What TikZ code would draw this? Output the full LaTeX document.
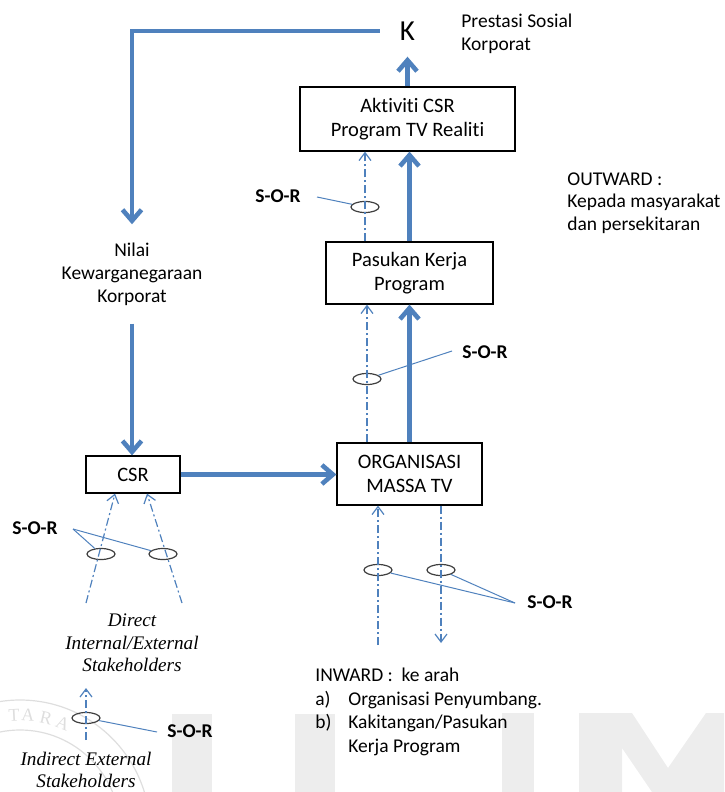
\documentclass[tikz,border=0pt]{standalone}
\usepackage{fontspec}
\setmainfont{Carlito}[Ligatures=NoCommon]
\newfontfamily\serifit{Liberation Serif}
\usetikzlibrary{arrows.meta,shapes.geometric}
\definecolor{csrblue}{HTML}{4F81BD}
\definecolor{markgrey}{HTML}{EDEDED}
\definecolor{sealgrey}{HTML}{DEDEDE}

\begin{document}
\begin{tikzpicture}[x=0.5pt,y=-0.5pt,
  box/.style={draw=black, line width=0.6pt, fill=white, inner sep=0pt, align=center,
    font=\fontsize{10.25}{12}\selectfont},
  flow/.style={draw=csrblue, line width=2.3pt, -{Straight Barb[length=5.5pt,width=9.5pt]}},
  sorflow/.style={draw=csrblue, line width=0.6pt,
    dash pattern=on 4pt off 1.5pt on 1pt off 1.5pt,
    -{Straight Barb[length=4pt,width=6pt]}},
  ring/.style={ellipse, draw=black!75, line width=0.6pt, minimum width=14pt,
    minimum height=5.5pt, inner sep=0pt},
  sortag/.style={font=\fontsize{9.75}{11}\selectfont\bfseries, inner sep=0pt},
  leader/.style={draw=csrblue, line width=0.5pt},
  note/.style={font=\fontsize{9.75}{11.5}\selectfont, inner sep=0pt, align=left},
  party/.style={font=\fontsize{9.6}{11.25}\selectfont\serifit\itshape, inner sep=0pt, align=center},
  seal/.style={draw=sealgrey, line width=0.6pt},
]
\useasboundingbox (0,0) rectangle (724,792);

% faint background seal and lettering
\begin{scope}
  \clip (0,0) rectangle (724,792);
  \fill[markgrey] (172,714) rectangle (212,792);
  \fill[markgrey] (295,714) rectangle (335,792);
  \fill[markgrey] (502,713) rectangle (534,792);
  \fill[markgrey] (579,713) -- (632,713) -- (668,768) -- (706,713) -- (724,713)
    -- (724,792) -- (652,792) -- (622,748) -- (622,792) -- (579,792) -- cycle;
  \draw[seal] (20,830) circle[radius=130];
  \draw[seal] (20,830) circle[radius=100];
  \foreach \ch/\px/\py/\rot in {T/14/715/3, A/28/715/-4, R/46/718/-13, A/63/723/-22}
    \node[text=sealgrey, font=\fontsize{9}{10}\selectfont\serifit, rotate=\rot, inner sep=0pt]
      at (\px,\py) {\ch};
\end{scope}

% main boxes
\node[box, minimum width=107.5pt, minimum height=32pt] (akt) at (407.5,119) {Aktiviti CSR\\Program TV Realiti};
\node[box, minimum width=83.5pt, minimum height=31pt] (pas) at (409.5,273) {Pasukan Kerja\\Program};
\node[box, minimum width=72.5pt, minimum height=31pt] (org) at (409.5,474) {ORGANISASI\\MASSA TV};
\node[box, minimum width=47pt, minimum height=18.5pt] (csr) at (133,474.5) {CSR};

% labels
\node[font=\fontsize{14.5}{16}\selectfont, inner xsep=10pt, inner ysep=8pt] (K) at (407.5,31) {K};
\node[note, align=center, inner ysep=9pt] (nilai) at (132,274) {Nilai\\Kewarganegaraan\\Korporat};
\node[note, anchor=north west] (pres) at (461,14) {Prestasi Sosial\\Korporat};
\node[note, anchor=north west, font=\fontsize{9.75}{11.25}\selectfont] (outw) at (567,172) {OUTWARD :\\Kepada masyarakat\\dan persekitaran};
\node[note, anchor=north west, font=\fontsize{9.75}{11.75}\selectfont] (inw) at (315,668)
  {INWARD :\ \ ke arah\\\makebox[16.5pt][l]{a)}Organisasi Penyumbang.\\\makebox[16.5pt][l]{b)}Kakitangan/Pasukan\\\hspace*{16.5pt}Kerja Program};
\node[party] (direct) at (132,643) {Direct\\Internal/External\\Stakeholders};
\node[party, font=\fontsize{9.6}{11}\selectfont\serifit\itshape] (indirect) at (86,770) {Indirect External\\Stakeholders};

% main flow
\draw[flow] (K.west) -| (nilai.north);
\draw[flow] (nilai.south) -- (nilai.south |- csr.north);
\draw[flow] (csr.east) -- (csr.east -| org.west);
\draw[flow] (org.north) -- (pas.south);
\draw[flow] (pas.north) -- (pas.north |- akt.south);
\draw[flow] (akt.north) -- (K.south);

% S-O-R rings
\node[ring] (e1) at (365,207) {};
\node[ring] (e2) at (367,379) {};
\node[ring] (e3) at (101,554) {};
\node[ring] (e4) at (163,554) {};
\node[ring] (e5) at (86,718) {};
\node[ring] (e6) at (378,570) {};
\node[ring] (e7) at (441,570) {};

% stimulus-response channels
\coordinate (in0) at (378,645);
\coordinate (out0) at (441,643);
\coordinate (d1) at (86,603);
\coordinate (d2) at (182,603);
\coordinate (i1) at (86,740);
\coordinate (i2) at (86,688);
\draw[sorflow] (pas.north -| e1) -- (akt.south -| e1);
\draw[sorflow] (org.north -| e2) -- (pas.south -| e2);
\draw[sorflow] (in0) -- (org.south -| in0);
\draw[sorflow] (org.south -| out0) -- (out0);
\draw[sorflow] (d1) -- ([xshift=-9pt]csr.south);
\draw[sorflow] (d2) -- ([xshift=7pt]csr.south);
\draw[sorflow] (i1) -- (i2);

% S-O-R tags and leaders
\node[sortag] (sor1) at (278,196) {S-O-R};
\node[sortag] (sor2) at (485,352) {S-O-R};
\node[sortag] (sor3) at (35,528) {S-O-R};
\node[sortag] (sor4) at (190,731) {S-O-R};
\node[sortag] (sor5) at (550,602) {S-O-R};
\coordinate (l1) at (317,197);
\coordinate (l2) at (452,351);
\coordinate (l3) at (73,529);
\coordinate (l4) at (157,732);
\coordinate (l5) at (515,603);
\draw[leader] (l1) -- (e1);
\draw[leader] (l2) -- (e2);
\draw[leader] (l3) -- (e3);
\draw[leader] (l3) -- (e4);
\draw[leader] (l4) -- (e5);
\draw[leader] (l5) -- (e6);
\draw[leader] (l5) -- (e7);
\end{tikzpicture}
\end{document}
